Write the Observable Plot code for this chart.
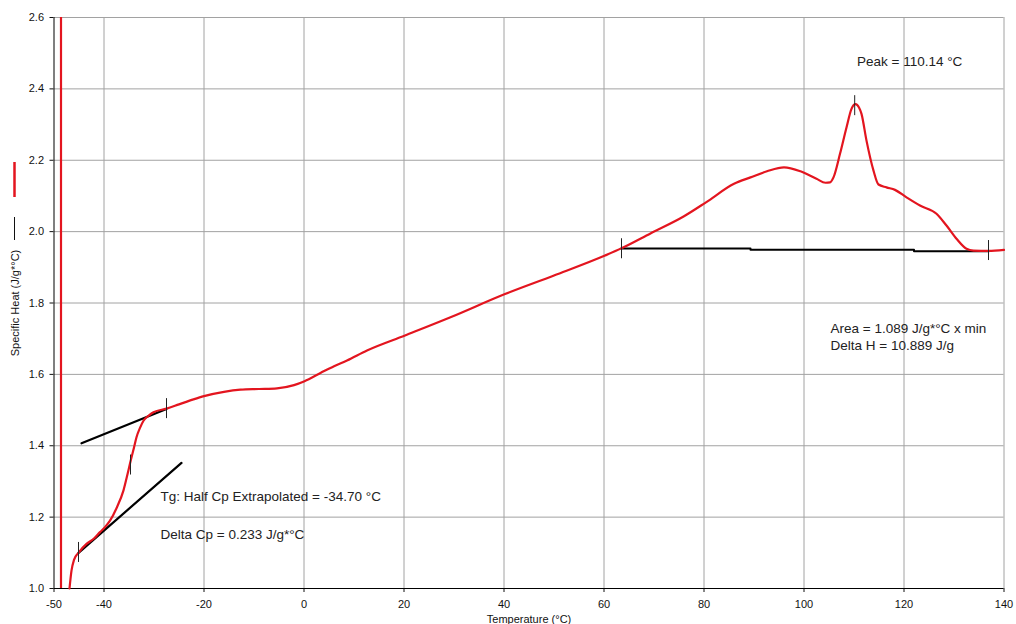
<!DOCTYPE html>
<html><head><meta charset="utf-8">
<script src="https://cdn.jsdelivr.net/npm/d3@7"></script>
<script src="https://cdn.jsdelivr.net/npm/@observablehq/plot@0.6"></script>
<style>body{margin:0;background:#fff}#chart svg{display:block}</style>
</head><body><div id="chart"></div><script>
// Specific heat curve (temperature °C, Cp J/g*°C)
const curveT = [-46.9,-46.5,-46.0,-45.1,-43.5,-42.0,-40.8,-39.8,-38.8,-37.5,-36.1,-35.3,-34.8,-34.0,-33.5,-32.8,-32.1,-31.0,-30.1,-27.5,-25.0,-22.1,-20.0,-16.0,-12.7,-9.0,-5.4,-2.0,0.1,3.3,6.0,8.6,12.6,20.2,29.3,40.2,50.0,60.2,63.6,69.3,76.0,80.4,86.0,89.3,92.6,96.0,99.3,102.5,104.3,105.2,105.9,107.2,108.5,109.5,110.3,111.0,111.5,112.5,113.9,114.9,116.5,118.2,120.5,123.2,126.5,128.5,130.5,132.5,133.9,136.9,140.0];
const curveCp = [1.000,1.050,1.080,1.100,1.125,1.140,1.158,1.172,1.190,1.225,1.275,1.320,1.350,1.395,1.424,1.450,1.470,1.485,1.494,1.504,1.516,1.530,1.539,1.551,1.557,1.559,1.561,1.570,1.581,1.604,1.623,1.639,1.667,1.709,1.760,1.825,1.877,1.933,1.954,1.995,2.043,2.082,2.134,2.152,2.169,2.180,2.169,2.148,2.137,2.138,2.152,2.218,2.292,2.344,2.357,2.348,2.330,2.255,2.171,2.132,2.124,2.117,2.096,2.073,2.050,2.017,1.980,1.952,1.947,1.946,1.949];
// start-up transient (vertical spike)
const spikeT = [-48.6];
// tangent lines for Tg
const upperTangentT = [-44.5, -27.5];
const upperTangentCp = [1.407, 1.503];
const lowerTangentT = [-45.1, -24.5];
const lowerTangentCp = [1.100, 1.352];
// integration baseline
const baselineT = [63.5, 89.3, 122.0, 137.0];
const baselineCp = [1.953, 1.949, 1.945, 1.945];
// analysis markers
const markerT = [-45.1, -34.7, -27.5, 63.5, 110.14, 136.9];
const markerCp = [1.101, 1.346, 1.504, 1.952, 2.353, 1.947];
// annotations
const noteX = [-28.7, -28.7, 110.6, 105.3, 105.3];
const noteY = [1.256, 1.150, 2.476, 1.728, 1.681];
const noteText = ["Tg: Half Cp Extrapolated = -34.70 °C", "Delta Cp = 0.233 J/g*°C", "Peak = 110.14 °C", "Area = 1.089 J/g*°C x min", "Delta H = 10.889 J/g"];
// axes
const xTicks = [-50, -40, -20, 0, 20, 40, 60, 80, 100, 120, 140];
const xGrid = [-40, -20, 0, 20, 40, 60, 80, 100, 120, 140];
const yTicks = [1.0, 1.2, 1.4, 1.6, 1.8, 2.0, 2.2, 2.4, 2.6];
const yGrid = [1.2, 1.4, 1.6, 1.8, 2.0, 2.2, 2.4, 2.6];
const xLabel = "Temperature (°C)";
const yLabel = "Specific Heat (J/g*°C)";

const curve = curveT.map((t, i) => ({t, cp: curveCp[i]}));
const tangents = [
  ...upperTangentT.map((t, i) => ({t, cp: upperTangentCp[i], s: "upper"})),
  ...lowerTangentT.map((t, i) => ({t, cp: lowerTangentCp[i], s: "lower"}))
];
const baseline = baselineT.map((t, i) => ({t, cp: baselineCp[i]}));
const markers = markerT.map((t, i) => ({t, cp: markerCp[i]}));
const notes = noteX.map((x, i) => ({x, y: noteY[i], text: noteText[i]}));

const RED = "#e3151f";
const FONT = "'Liberation Sans', Arial, sans-serif";

const chart = Plot.plot({
  width: 1016, height: 624,
  marginLeft: 53.5, marginRight: 12.5, marginTop: 17, marginBottom: 36,
  style: {fontFamily: FONT, fontSize: "11px", color: "#111", background: "#fff", overflow: "visible"},
  x: {domain: [-50, 140], ticks: xTicks, tickFormat: d => String(d), tickSize: 4, tickPadding: 8, label: null},
  y: {domain: [1.0, 2.6], ticks: yTicks, tickFormat: d3.format(".1f"), tickSize: 4, tickPadding: 6, label: null},
  marks: [
    Plot.ruleX(xGrid, {stroke: "#a2a2a2", strokeWidth: 1}),
    Plot.ruleY(yGrid, {stroke: "#a2a2a2", strokeWidth: 1}),
    Plot.ruleX([-50], {stroke: "#000", strokeWidth: 1}),
    Plot.ruleY([1.0], {stroke: "#000", strokeWidth: 1}),
    Plot.ruleX(spikeT, {stroke: RED, strokeWidth: 2.2}),
    Plot.line(tangents, {x: "t", y: "cp", z: "s", stroke: "#000", strokeWidth: 2.2}),
    Plot.line(baseline, {x: "t", y: "cp", stroke: "#000", strokeWidth: 2, curve: "step-after"}),
    Plot.line(curve, {x: "t", y: "cp", stroke: RED, strokeWidth: 2.2, curve: "monotone-x"}),
    Plot.ruleX(markers, {x: "t", y1: "cp", y2: "cp", insetTop: -10, insetBottom: -10, stroke: "#222", strokeWidth: 1}),
    Plot.text(notes, {x: "x", y: "y", text: "text", textAnchor: "start", lineAnchor: "middle", fontSize: 13.5, fill: "#222"}),
    Plot.text([xLabel], {frameAnchor: "bottom", dy: 31, textAnchor: "middle", lineAnchor: "middle", fontSize: 11, fill: "#111"}),
    Plot.text([yLabel], {frameAnchor: "left", rotate: -90, dx: -39, textAnchor: "middle", lineAnchor: "middle", fontSize: 11, fill: "#111"})
  ]
});

// legend symbols beside the y label
const svg = d3.select(chart);
svg.append("line").attr("x1", 14.5).attr("x2", 14.5).attr("y1", 162).attr("y2", 197).attr("stroke", RED).attr("stroke-width", 2.5);
svg.append("line").attr("x1", 14.5).attr("x2", 14.5).attr("y1", 217).attr("y2", 240).attr("stroke", "#111").attr("stroke-width", 1);
document.getElementById("chart").appendChild(chart);
</script></body></html>
